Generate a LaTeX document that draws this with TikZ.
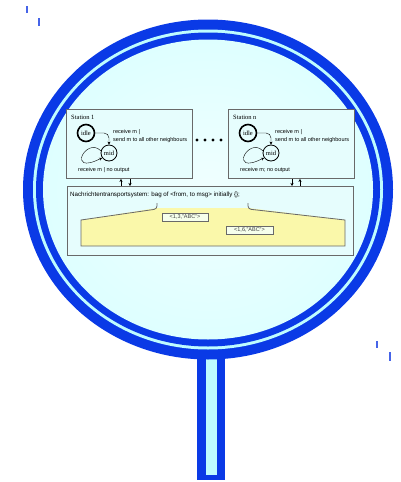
\documentclass[tikz,border=0pt]{standalone}
\usepackage{fontspec}
\setmainfont{Liberation Sans}
\newfontfamily\stfont{Liberation Serif}
\usetikzlibrary{arrows.meta}
\definecolor{lensblue}{RGB}{10,58,230}
\definecolor{gapcyan}{RGB}{190,252,255}
\definecolor{glass}{RGB}{222,255,255}
\definecolor{glasscenter}{RGB}{240,255,255}
\definecolor{boxfill}{RGB}{230,253,253}
\definecolor{bagfill}{RGB}{250,248,170}
\definecolor{msgfill}{RGB}{246,255,236}
\definecolor{framegray}{RGB}{105,105,105}
\definecolor{tickblue}{RGB}{70,100,232}
\tikzset{
  station/.style={draw=framegray,line width=0.9pt,fill=boxfill,anchor=north west,
    minimum width=126pt,minimum height=69pt,inner sep=0pt},
  state/.style={circle,draw,inner sep=0pt,minimum size=16pt,
    font=\stfont\fontsize{6.5}{7}\selectfont},
  lbl/.style={anchor=west,inner sep=0pt,font=\fontsize{5.5}{6}\selectfont},
  msgbox/.style={draw=framegray,line width=0.6pt,fill=msgfill,
    inner sep=1.8pt,font=\fontsize{5.5}{6}\selectfont,text=black!75}
}
\begin{document}
\begin{tikzpicture}[x=1pt,y=-1pt,>={Stealth[length=3pt,width=3pt]}]
\useasboundingbox (0,0) rectangle (400,482);
% handle
\fill[lensblue] (197,350) rectangle (225,480);
\fill[gapcyan] (206,350) rectangle (217,475);
% lens
\fill[lensblue] (208,189.5) ellipse [x radius=185,y radius=170];
\fill[gapcyan] (208,189.5) ellipse [x radius=175,y radius=160];
\fill[lensblue] (208,189.5) ellipse [x radius=172,y radius=157];
\shade[inner color=glasscenter,outer color=glass] (208,189.5) ellipse [x radius=165,y radius=150];
\foreach \x/\ya/\yb in {27/6/13,39/18/26,377/341/348,390/352/361}
  \draw[tickblue,line width=1.4pt] (\x,\ya) -- (\x,\yb);
% stations
\foreach \ox/\n/\lp in {0/1/{receive m | no output},162/n/{receive m; no output}}{
  \node[station] (st\n) at (66+\ox,109) {};
  \node[anchor=west,inner sep=0pt,font=\stfont\fontsize{6.5}{7}\selectfont] (name\n) at (71+\ox,117) {Station \n};
  \node[state,line width=1.6pt,minimum size=17pt] (idle\n) at (86+\ox,133) {idle};
  \node[state,line width=0.8pt] (mid\n) at (109+\ox,153) {mid};
  \draw[->,rounded corners=5pt] (idle\n.east) -- (idle\n.east -| mid\n.north) -- (mid\n.north);
  \draw[->] (mid\n.165) .. controls (86+\ox,136) and (66+\ox,176) .. (mid\n.215);
  \node[lbl] (rcv\n) at (113+\ox,132) {receive m |};
  \node[lbl] (snd\n) at (113+\ox,140) {send m to all other neighbours};
  \node[lbl] (loop\n) at (78+\ox,170) {\lp};
}
\foreach \x in {197,205,213,221}
  \fill (\x,140) circle (1.6);
% message system
\node[station,minimum width=286pt,minimum height=69pt] (nts) at (67,186) {};
\node[lbl,font=\fontsize{6.2}{7}\selectfont] (ntstext) at (70,195)
  {Nachrichtentransportsystem: bag of <from, to msg> initially \{\};};
\foreach \x/\b/\d in {121/st1/<-,130/st1/->,292/stn/->,300/stn/<-}
  \draw[\d,line width=0.9pt] (\x,0 |- \b.south) -- (\x,0 |- nts.north);
% bag
\fill[bagfill] (157,208) -- (81,220) -- (81,246) -- (345,246) -- (345,220) -- (248,208) -- cycle;
\draw[framegray,line width=0.8pt] (157,203) [rounded corners=3pt]-- (157,209) [sharp corners]-- (81,220) -- (81,246)
  -- (345,246) -- (345,220) [rounded corners=3pt]-- (248,209) [sharp corners]-- (248,203);
\node[msgbox,minimum width=46pt] (m1) at (185,217) {<1,3,"ABC">};
\node[msgbox,minimum width=47pt] (m2) at (249.5,230) {<1,6,"ABC">};
\end{tikzpicture}
\end{document}
